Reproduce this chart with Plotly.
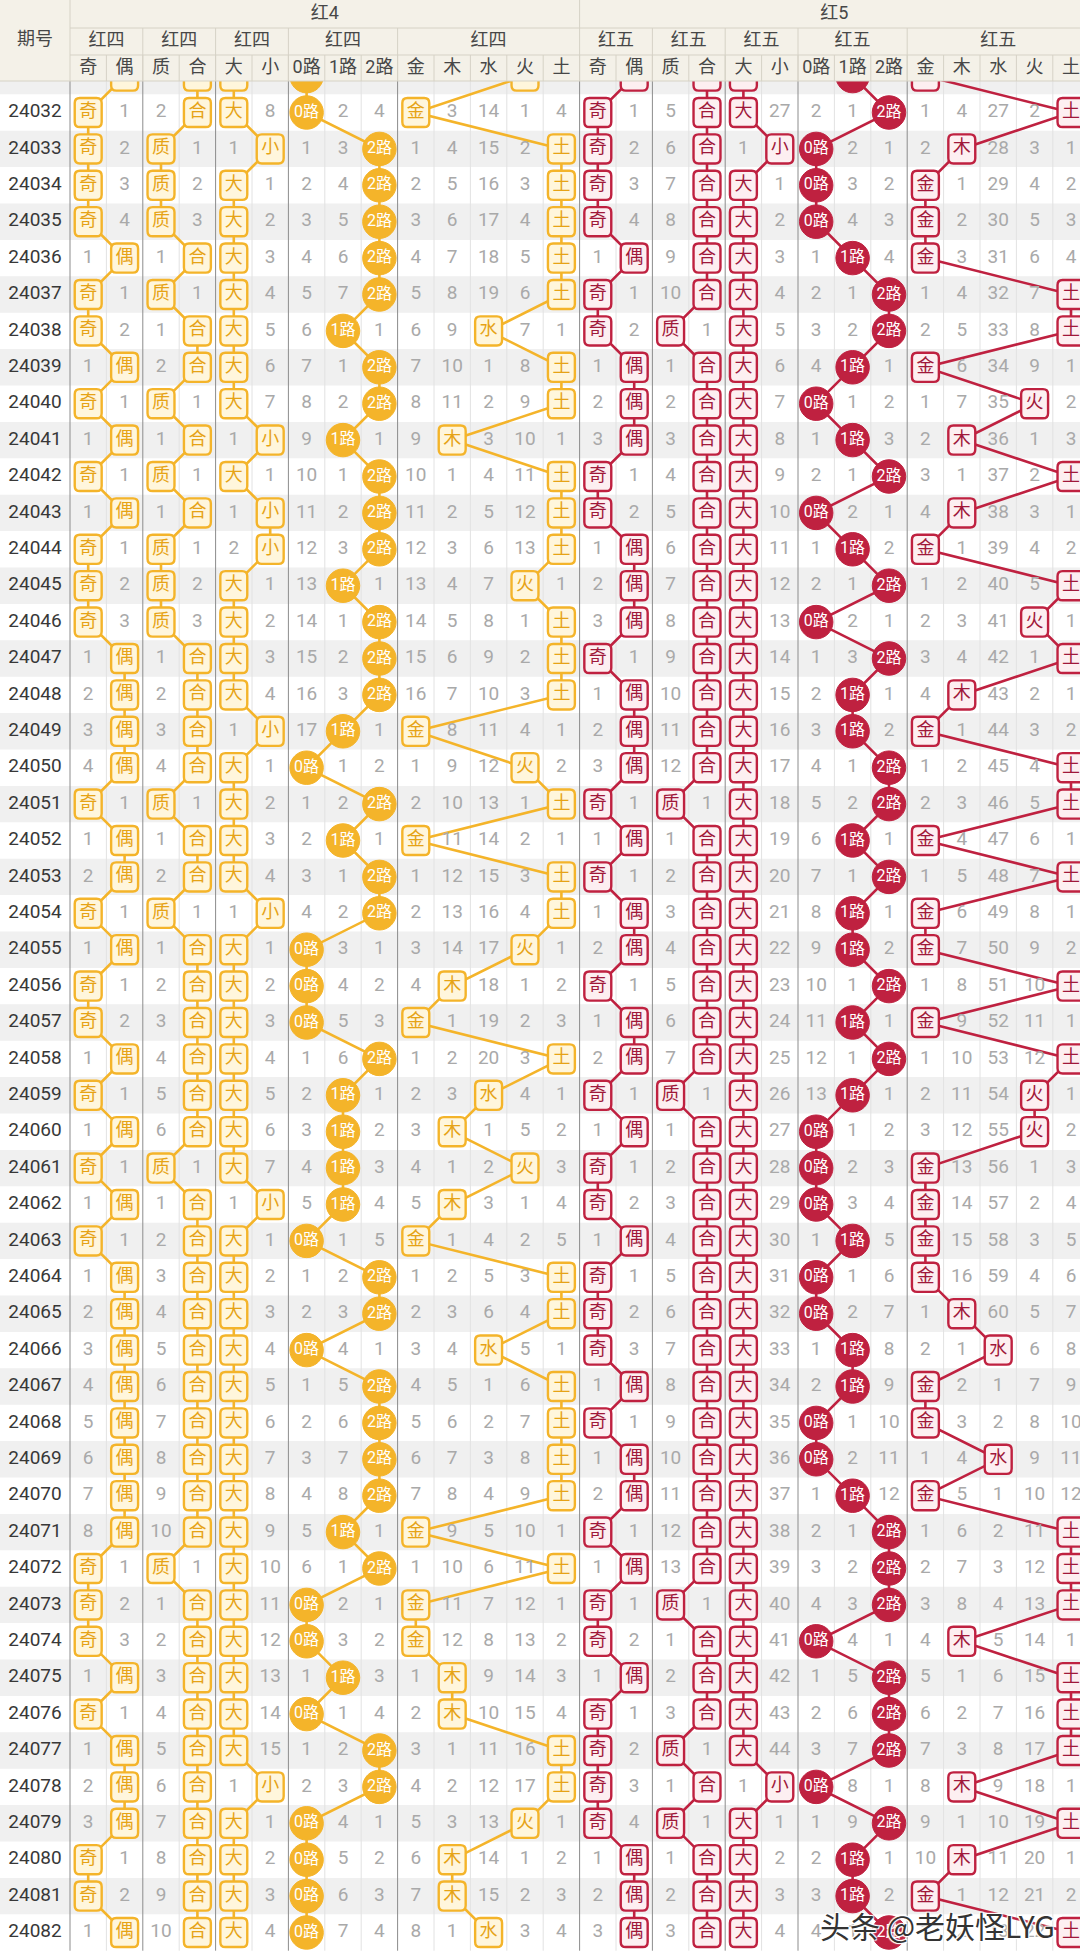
import plotly.graph_objects as go

# 期号 (24031 is the half-hidden row under the header)
ISSUES = [24031, 24032, 24033, 24034, 24035, 24036, 24037, 24038, 24039, 24040,
          24041, 24042, 24043, 24044, 24045, 24046, 24047, 24048, 24049, 24050,
          24051, 24052, 24053, 24054, 24055, 24056, 24057, 24058, 24059, 24060,
          24061, 24062, 24063, 24064, 24065, 24066, 24067, 24068, 24069, 24070,
          24071, 24072, 24073, 24074, 24075, 24076, 24077, 24078, 24079, 24080,
          24081, 24082]

# hits per issue: 奇偶, 质合, 大小, 012路, 五行
RED4_HITS = [
    "偶合大0火", "奇合大0金", "奇质小2土", "奇质大2土", "奇质大2土", "偶合大2土",
    "奇质大2土", "奇合大1水", "偶合大2土", "奇质大2土", "偶合小1木", "奇质大2土",
    "偶合小2土", "奇质小2土", "奇质大1火", "奇质大2土", "偶合大2土", "偶合大2土",
    "偶合小1金", "偶合大0火", "奇质大2土", "偶合大1金", "偶合大2土", "奇质小2土",
    "偶合大0火", "奇合大0木", "奇合大0金", "偶合大2土", "奇合大1水", "偶合大1木",
    "奇质大1火", "偶合小1木", "奇合大0金", "偶合大2土", "偶合大2土", "偶合大0水",
    "偶合大2土", "偶合大2土", "偶合大2土", "偶合大2土", "偶合大1金", "奇质大2土",
    "奇合大0金", "奇合大0金", "偶合大1木", "奇合大0木", "偶合大2土", "偶合小2土",
    "偶合大0火", "奇合大0木", "奇合大0木", "偶合大0水",
]
RED5_HITS = [
    "偶合大1金", "奇合大2土", "奇合小0木", "奇合大0金", "奇合大0金", "偶合大1金",
    "奇合大2土", "奇质大2土", "偶合大1金", "偶合大0火", "偶合大1木", "奇合大2土",
    "奇合大0木", "偶合大1金", "偶合大2土", "偶合大0火", "奇合大2土", "偶合大1木",
    "偶合大1金", "偶合大2土", "奇质大2土", "偶合大1金", "奇合大2土", "偶合大1金",
    "偶合大1金", "奇合大2土", "偶合大1金", "偶合大2土", "奇质大1火", "偶合大0火",
    "奇合大0金", "奇合大0金", "偶合大1金", "奇合大0金", "奇合大0木", "奇合大1水",
    "偶合大1金", "奇合大0金", "偶合大0水", "偶合大1金", "奇合大2土", "偶合大2土",
    "奇质大2土", "奇合大0木", "偶合大2土", "奇合大2土", "奇质大2土", "奇合小0木",
    "奇质大2土", "偶合大1木", "偶合大1金", "偶合大2土",
]

# first full row (24032) as printed: omission counts, hits as labels
RED4_FIRST = ["奇", 1, 2, "合", "大", 8, "0路", 2, 4, "金", 3, 14, 1, 4]
RED5_FIRST = ["奇", 1, 5, "合", "大", 27, 2, 1, "2路", 1, 4, 27, 2, "土"]

COLUMNS = ["奇", "偶", "质", "合", "大", "小", "0路", "1路", "2路",
           "金", "木", "水", "火", "土"]
SUBGROUPS = [(0, 2), (2, 4), (4, 6), (6, 9), (9, 14)]

GOLD, GOLD_FILL, GOLD_TEXT = "#f4b42a", "#fff6dc", "#e6a316"
RED, RED_FILL, RED_TEXT = "#bf2140", "#fdeff1", "#a0183a"
MISS_COLOR = "#a9a9a9"
FONT = "Roboto, Noto Sans CJK SC, sans-serif"

# geometry: one data unit = one cell (36.4 px)
PX = 36.4
X_LO = -70 / PX
X_HI = X_LO + 1080 / PX
Y_TOP = -112.5 / PX
Y_BOT = Y_TOP + 1959 / PX
H1 = Y_TOP + 28 / PX
H2 = Y_TOP + 55 / PX
H3 = Y_TOP + 81 / PX
LAST = len(ISSUES) - 2 + 0.5


def hit_cols(s):
    return [COLUMNS.index(s[0]), COLUMNS.index(s[1]), COLUMNS.index(s[2]),
            COLUMNS.index(s[3] + "路"), COLUMNS.index(s[4])]


def miss_table(hits, first):
    rows, prev = [], None
    for s in hits[1:]:
        cols = hit_cols(s)
        if prev is None:
            cur = [v if isinstance(v, int) else 0 for v in first]
        else:
            cur = [0 if c in cols else prev[c] + 1 for c in range(14)]
        rows.append(cur)
        prev = cur
    return rows


def rrect(cx, cy, a=0.37, b=0.40, r=0.14):
    l, rt, t, bt = cx - a, cx + a, cy - b, cy + b
    return (f"M{l + r:.3f},{t:.3f} L{rt - r:.3f},{t:.3f} Q{rt:.3f},{t:.3f} {rt:.3f},{t + r:.3f} "
            f"L{rt:.3f},{bt - r:.3f} Q{rt:.3f},{bt:.3f} {rt - r:.3f},{bt:.3f} "
            f"L{l + r:.3f},{bt:.3f} Q{l:.3f},{bt:.3f} {l:.3f},{bt - r:.3f} "
            f"L{l:.3f},{t + r:.3f} Q{l:.3f},{t:.3f} {l + r:.3f},{t:.3f} Z ")


def circ(cx, cy, r=0.46):
    k = 0.5523 * r
    return (f"M{cx + r:.3f},{cy:.3f} C{cx + r:.3f},{cy + k:.3f} {cx + k:.3f},{cy + r:.3f} {cx:.3f},{cy + r:.3f} "
            f"C{cx - k:.3f},{cy + r:.3f} {cx - r:.3f},{cy + k:.3f} {cx - r:.3f},{cy:.3f} "
            f"C{cx - r:.3f},{cy - k:.3f} {cx - k:.3f},{cy - r:.3f} {cx:.3f},{cy - r:.3f} "
            f"C{cx + k:.3f},{cy - r:.3f} {cx + r:.3f},{cy - k:.3f} {cx + r:.3f},{cy:.3f} Z ")


def seg(x0, y0, x1, y1):
    return f"M{x0:.3f},{y0:.3f} L{x1:.3f},{y1:.3f} "


shapes = []

# zebra rows
zebra = ""
for i in range(len(ISSUES)):
    r = i - 1
    if r % 2:
        zebra += (f"M{X_LO:.3f},{r - 0.5:.3f} L{X_HI:.3f},{r - 0.5:.3f} "
                  f"L{X_HI:.3f},{r + 0.5:.3f} L{X_LO:.3f},{r + 0.5:.3f} Z ")
shapes.append(dict(type="path", path=zebra, fillcolor="#f0f0f0", line=dict(width=0)))

# grid lines
major = {0, 2, 4, 6, 9, 14, 16, 18, 20, 23}
light = "".join(seg(k, H3, k, LAST) for k in range(1, 28) if k not in major)
dark = "".join(seg(k, H3, k, LAST) for k in sorted(major))
shapes.append(dict(type="path", path=light, line=dict(color="#e2e2e2", width=1)))
shapes.append(dict(type="path", path=dark, line=dict(color="#8c8c8c", width=1)))

text_x, text_y, text_s = [], [], []
badge_text = {"g": ([], [], []), "r": ([], [], []), "c": ([], [], [])}

for hits, first, off, key, col, fill in [
    (RED4_HITS, RED4_FIRST, 0, "g", GOLD, GOLD_FILL),
    (RED5_HITS, RED5_FIRST, 14, "r", RED, RED_FILL),
]:
    cols_per_row = [hit_cols(s) for s in hits]
    # trend lines
    for g, (a, b) in enumerate(SUBGROUPS):
        pts = [(cols[g] + off + 0.5, i - 1) for i, cols in enumerate(cols_per_row)]
        p = f"M{pts[0][0]:.3f},{pts[0][1]:.3f} " + "".join(
            f"L{x:.3f},{y:.3f} " for x, y in pts[1:])
        shapes.append(dict(type="path", path=p, line=dict(color=col, width=2.6),
                           fillcolor="rgba(0,0,0,0)"))
    # badges
    sq, ci = "", ""
    for i, cols in enumerate(cols_per_row):
        r = i - 1
        for g, c in enumerate(cols):
            cx = c + off + 0.5
            if g == 3:
                ci += circ(cx, r)
                if r >= 0:
                    badge_text["c"][0].append(cx)
                    badge_text["c"][1].append(r)
                    badge_text["c"][2].append(COLUMNS[c])
            else:
                sq += rrect(cx, r)
                if r >= 0:
                    badge_text[key][0].append(cx)
                    badge_text[key][1].append(r)
                    badge_text[key][2].append(COLUMNS[c])
    shapes.append(dict(type="path", path=sq, fillcolor=fill, line=dict(color=col, width=2.4)))
    shapes.append(dict(type="path", path=ci, fillcolor=col, line=dict(color=col, width=1)))
    # omission numbers
    for r, row in enumerate(miss_table(hits, first)):
        for c, v in enumerate(row):
            if v > 0:
                text_x.append(c + off + 0.5)
                text_y.append(r)
                text_s.append(str(v))

# header block
shapes.append(dict(type="rect", x0=X_LO, x1=X_HI, y0=Y_TOP, y1=H3,
                   fillcolor="#f4f1e8", line=dict(width=0)))
hl = seg(0, H1, X_HI, H1) + seg(0, H2, X_HI, H2) + seg(X_LO, H3, X_HI, H3)
hl += seg(0, Y_TOP, 0, H3) + seg(14, Y_TOP, 14, H3)
for a, b in SUBGROUPS[1:]:
    hl += seg(a, H1, a, H3) + seg(a + 14, H1, a + 14, H3)
for k in range(1, 28):
    hl += seg(k, H2, k, H3)
shapes.append(dict(type="path", path=hl, line=dict(color="#d6d2c6", width=1)))

fig = go.Figure()

# 期号 column
fig.add_trace(go.Scatter(
    x=[X_LO / 2] * (len(ISSUES) - 1), y=list(range(len(ISSUES) - 1)),
    text=[str(v) for v in ISSUES[1:]], mode="text",
    textfont=dict(family=FONT, size=19, color="#383838"),
    hoverinfo="skip", showlegend=False,
))
fig.add_trace(go.Scatter(
    x=text_x, y=text_y, text=text_s, mode="text",
    textfont=dict(family=FONT, size=19, color=MISS_COLOR),
    hoverinfo="skip", showlegend=False,
))
for key, color, size in [("g", GOLD_TEXT, 18), ("r", RED_TEXT, 18), ("c", "white", 16)]:
    bx, by, bs = badge_text[key]
    fig.add_trace(go.Scatter(
        x=bx, y=by, text=bs, mode="text",
        textfont=dict(family=FONT, size=size, color=color),
        hoverinfo="skip", showlegend=False,
    ))

# header texts
hx, hy, hs = [X_LO / 2], [(Y_TOP + H3) / 2], ["期号"]
for off, big, small in [(0, "红4", "红四"), (14, "红5", "红五")]:
    hx.append(off + 7)
    hy.append((Y_TOP + H1) / 2)
    hs.append(big)
    for a, b in SUBGROUPS:
        hx.append(off + (a + b) / 2)
        hy.append((H1 + H2) / 2)
        hs.append(small)
    for k, name in enumerate(COLUMNS):
        hx.append(off + k + 0.5)
        hy.append((H2 + H3) / 2)
        hs.append(name)
fig.add_trace(go.Scatter(
    x=hx, y=hy, text=hs, mode="text",
    textfont=dict(family=FONT, size=18, color="#474747"),
    hoverinfo="skip", showlegend=False,
))

fig.add_annotation(
    x=0.8685, y=0.0175, xref="paper", yref="paper", showarrow=False,
    xanchor="center", yanchor="middle",
    text="头条 @老妖怪LYG",
    font=dict(family="Noto Sans CJK SC", size=30, color="#333333",
              shadow="1px 1px 1px #ffffff, -1px -1px 1px #ffffff, 1px -1px 1px #ffffff, -1px 1px 1px #ffffff"),
)

fig.update_layout(
    width=1080, height=1959,
    margin=dict(l=0, r=0, t=0, b=0),
    paper_bgcolor="white", plot_bgcolor="white",
    shapes=[dict(s, xref="x", yref="y", layer="below") for s in shapes],
    xaxis=dict(range=[X_LO, X_HI], visible=False, fixedrange=True),
    yaxis=dict(range=[Y_BOT, Y_TOP], visible=False, fixedrange=True),
    showlegend=False,
)

fig.write_html("out.html", config={"displayModeBar": False},
               post_script="document.body.style.margin='0';")
